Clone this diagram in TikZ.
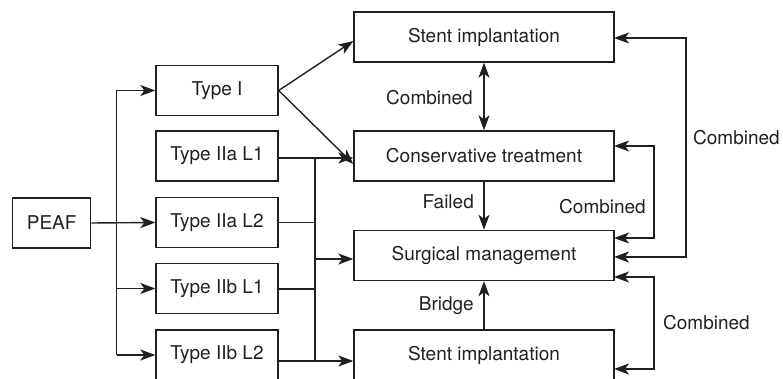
\documentclass[tikz,border=0pt]{standalone}
\usepackage{fontspec}
\setmainfont{TeX Gyre Heros}
\usetikzlibrary{arrows.meta}
\definecolor{ink}{HTML}{231F20}
\begin{document}
\begin{tikzpicture}[x=1pt,y=-1pt,
  every node/.style={font=\fontsize{19}{22}\selectfont, text=ink},
  box/.style={draw=ink, line width=1.4pt, minimum height=50pt, inner sep=0pt},
  tbox/.style={box, minimum width=122pt},
  rbox/.style={box, minimum width=260pt},
  conn/.style={draw=ink, line width=1.4pt},
  tip/.tip={Stealth[length=15pt,width=11pt,inset=4pt]},
  arr/.style={conn, -tip},
  darr/.style={conn, tip-tip},
  lbl/.style={inner sep=0pt}]
\useasboundingbox (0,0) rectangle (783,379);
\clip (0,0) rectangle (783,379);
% left boxes
\node[box, minimum width=78pt] (peaf) at (51.7,223) {PEAF};
\node[tbox] (t1) at (217,90.5) {Type I};
\node[tbox] (t2) at (217,156) {Type IIa L1};
\node[tbox] (t3) at (217,222.5) {Type IIa L2};
\node[tbox] (t4) at (217,288.5) {Type IIb L1};
\node[tbox] (t5) at (217,355) {Type IIb L2};
% right boxes
\node[rbox] (st) at (484,37) {Stent implantation};
\node[rbox] (ct) at (484,156) {Conservative treatment};
\node[rbox] (sm) at (484,255.5) {Surgical management};
\node[rbox] (sb) at (484,355) {Stent implantation};
% left trunk
\coordinate (lt1) at (116.7,90.5);
\coordinate (lt5) at (116.7,355);
\coordinate (lt4) at (116.7,288.5);
\draw[conn] (lt5) -- (lt1);
\draw[arr] (lt1) -- (t1.west);
\draw[arr] (peaf.east) -- (t3.west);
\draw[arr] (lt4) -- (t4.west);
\draw[arr] (lt5) -- (t5.west);
% Type I outputs
\draw[arr] (t1.east) -- ([yshift=-4pt]st.west);
\draw[arr] (t1.east) -- ([yshift=-8pt]ct.west);
% right trunk
\coordinate (rt2) at (315,158);
\coordinate (rt3) at (315,222.5);
\coordinate (rt4) at (315,289);
\coordinate (rts) at (315,259);
\coordinate (rt5) at (315,361);
\draw[conn] (rt2) -- (rt5);
\draw[arr] (t2.east |- rt2) -- (ct.west |- rt2);
\draw[conn] (t3.east) -- (rt3);
\draw[conn] (t4.east |- rt4) -- (rt4);
\draw[arr] (rts) -- (sm.west |- rts);
\draw[arr] (t5.east |- rt5) -- (sb.west |- rt5);
% vertical center arrows
\draw[darr] (st.south) -- (ct.north);
\draw[arr] (ct.south) -- (sm.north);
\draw[arr] (sb.north) -- (sm.south);
\node[lbl, anchor=east] (lc) at (473,98) {Combined};
\node[lbl, anchor=east] (lf) at (474,202) {Failed};
\node[lbl, anchor=east] (lb) at (474,306) {Bridge};
% right loops
\coordinate (a1) at (614,146);
\coordinate (a2) at (614,238);
\draw[arr] (654,200) |- (a1);
\draw[arr] (654,200) |- (a2);
\coordinate (b1) at (614,38);
\coordinate (b2) at (614,257);
\draw[arr] (686,150) |- (b1);
\draw[arr] (686,150) |- (b2);
\coordinate (c1) at (614,277);
\coordinate (c2) at (614,369);
\draw[arr] (654,320) |- (c1);
\draw[arr] (654,320) |- (c2);
\node[lbl, anchor=east] (l1) at (646,207) {Combined};
\node[lbl, anchor=west] (l2) at (693,138) {Combined};
\node[lbl, anchor=west] (l3) at (663,323) {Combined};
\end{tikzpicture}
\end{document}
